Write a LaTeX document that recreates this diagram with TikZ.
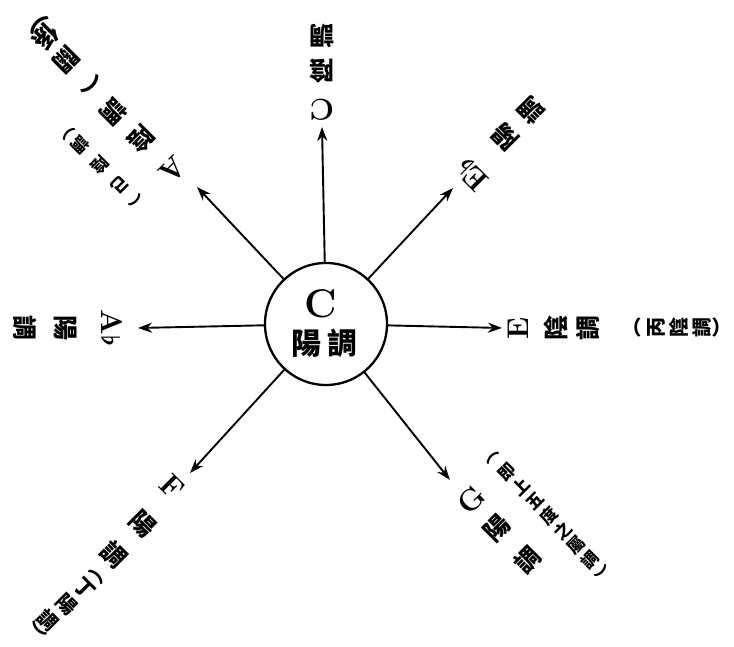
\documentclass[tikz,border=0pt]{standalone}
\usepackage{fontspec}
\newfontfamily\cjk{Noto Sans CJK TC}
\usetikzlibrary{arrows.meta}
\tikzset{
  arr/.style={line width=1.9pt, -{Stealth[length=14pt,width=10pt]}},
  ch/.style={font=\cjk\bfseries\fontsize{25}{25}\selectfont, inner sep=0pt},
  md/.style={font=\cjk\bfseries\fontsize{20}{20}\selectfont, inner sep=0pt},
  sm/.style={font=\cjk\bfseries\fontsize{17}{17}\selectfont, inner sep=0pt},
  lat/.style={font=\bfseries\fontsize{30}{30}\selectfont, inner sep=0pt},
  hub/.style={circle, draw, line width=2.3pt, minimum size=122pt, inner sep=0pt}
}
\newcommand\bflat{{\boldmath$\flat$}}
\begin{document}
\begin{tikzpicture}[x=1pt,y=1pt]
\fill[white] (0,0) rectangle (734,647);
\useasboundingbox (0,0) rectangle (734,647);

% centre
\node[hub] (ctr) at (326,323) {};
\node[font=\bfseries\fontsize{40}{40}\selectfont, inner sep=0pt] (cC) at (321,343) {C};
\node[font=\cjk\bfseries\fontsize{30}{30}\selectfont, inner sep=0pt] (cY) at (324,304) {陽\hspace{6pt}調};

% arrow tips
\coordinate (tN) at (322,520);
\coordinate (tNE) at (453,459);
\coordinate (tE) at (502,319);
\coordinate (tW) at (138,319);
\coordinate (tNW) at (197,460);
\coordinate (tSE) at (450,167);
\coordinate (tSW) at (190,174);
\foreach \t in {tN,tNE,tE,tW,tNW,tSE,tSW} \draw[arr] (ctr) -- (\t);

% N
\node[lat, rotate=180] (nC) at (322,537) {C};
\node[ch, rotate=180] (n1) at (322,576) {陰};
\node[ch, rotate=180] (n2) at (322,611) {調};

% NE
\node[lat, rotate=135] (neE) at (472,472) {E\bflat};
\node[ch, rotate=135] (ne1) at (505,510) {陽};
\node[ch, rotate=135] (ne2) at (531,537) {調};

% E
\node[lat, rotate=90] (eE) at (518,319) {E};
\node[ch, rotate=90] (e1) at (556,319) {陰};
\node[ch, rotate=90] (e2) at (588,319) {調};
\node[md, rotate=90] (e3) at (638,319) {︵};
\node[md, rotate=90] (e4) at (656,319) {丙};
\node[md, rotate=90] (e5) at (679,319) {陰};
\node[md, rotate=90] (e6) at (702,319) {調};
\node[md, rotate=90] (e7) at (721,319) {︶};

% W
\node[lat, rotate=-90] (wA) at (112,319) {A\bflat};
\node[ch, rotate=-90] (w1) at (66,319) {陽};
\node[ch, rotate=-90] (w2) at (25,319) {調};

% NW column 1
\node[lat, rotate=225] (nwA) at (173,477) {A};
\node[ch, rotate=225] (nw1) at (141,508) {陰};
\node[ch, rotate=225] (nw2) at (113,535) {調};
\node[ch, rotate=225] (nw3) at (91,562) {︵};
\node[ch, rotate=225] (nw4) at (66,587) {關};
\node[ch, rotate=225] (nw5) at (45,610) {係};
\node[ch, rotate=225] (nw6) at (34,627) {︶};
% NW column 2
\node[sm, rotate=225] (nw7) at (135,447) {︵};
\node[sm, rotate=225] (nw8) at (120,462) {己};
\node[sm, rotate=225] (nw9) at (100,482) {陰};
\node[sm, rotate=225] (nw10) at (80,502) {調};
\node[sm, rotate=225] (nw11) at (66,516) {︶};

% SW
\node[lat, rotate=-45] (swF) at (172,160) {F};
\node[ch, rotate=-45] (sw1) at (143,123) {陽};
\node[ch, rotate=-45] (sw2) at (114,92) {調};
\node[md, rotate=-45] (sw3) at (97,71) {︵};
\node[md, rotate=-45] (sw4) at (85,58) {丁};
\node[md, rotate=-45] (sw5) at (67,43) {陽};
\node[md, rotate=-45] (sw6) at (48,27) {調};
\node[md, rotate=-45] (sw7) at (35,14) {︶};

% SE column 1
\node[lat, rotate=45] (seG) at (472,147) {G};
\node[ch, rotate=45] (se1) at (497,119) {陽};
\node[ch, rotate=45] (se2) at (528,87) {調};
% SE column 2
\node[sm, rotate=45] (se3) at (493,189) {︵};
\node[sm, rotate=45] (se4) at (507,174.5) {即};
\node[sm, rotate=45] (se5) at (521,160) {上};
\node[sm, rotate=45] (se6) at (535,145.5) {五};
\node[sm, rotate=45] (se7) at (549,131) {度};
\node[sm, rotate=45] (se8) at (562.5,116.5) {之};
\node[sm, rotate=45] (se9) at (576,102) {屬};
\node[sm, rotate=45] (se10) at (590,87.5) {調};
\node[sm, rotate=45] (se11) at (604,73) {︶};
\end{tikzpicture}
\end{document}
